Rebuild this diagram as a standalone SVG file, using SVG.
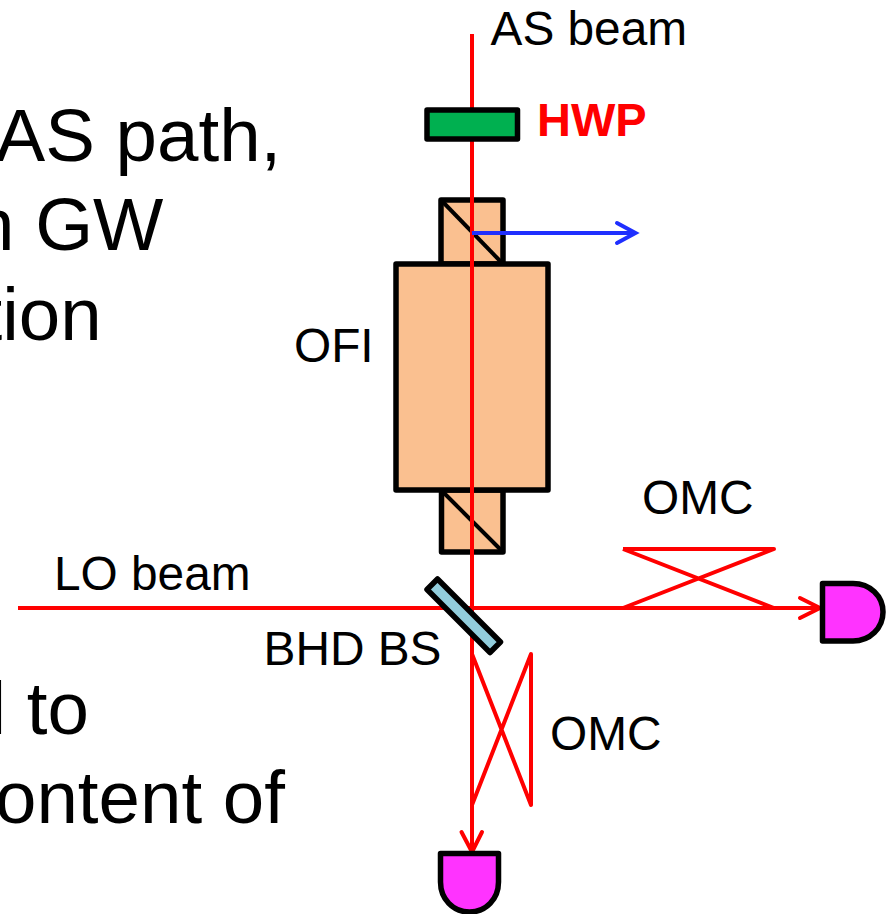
<svg xmlns="http://www.w3.org/2000/svg" width="890" height="914" viewBox="0 0 890 914">
<style>
text{font-family:"Liberation Sans",Arial,sans-serif;fill:#000}
.big{font-size:74.5px}
.lab{font-size:47.8px}
.box{fill:#fac090;stroke:#000;stroke-width:5.500;stroke-linejoin:round}
.det{fill:#ff33ff;stroke:#000;stroke-width:5.500;stroke-linejoin:round}
.thin{fill:none;stroke:#000;stroke-width:4}
.red{fill:none;stroke:#ff0000;stroke-width:4;stroke-linejoin:round}
.cap{stroke-linecap:round}
</style>
<rect width="890" height="914" fill="#fff"/>
<g id="caption">
<text class="big" x="-4.500" y="160.500">AS path,</text>
<text class="big" x="-27" y="250">n GW</text>
<text class="big" x="-18.500" y="340">tion</text>
<text class="big" x="-10.500" y="734">l to</text>
<text class="big" x="-5" y="823">ontent of</text>
</g>
<g id="ofi">
<rect class="box" x="441" y="200" width="62" height="64"/>
<path class="thin" d="M441 200L503 264"/>
<rect class="box" x="441.500" y="490" width="61.500" height="62"/>
<path class="thin" d="M441 490L503 552"/>
<rect class="box" x="396" y="264" width="152" height="226"/>
</g>
<g id="connectors">
<path class="red" d="M472 34V852"/>
<path class="red" d="M18 608H820"/>
<path class="red cap" d="M800 598L820 608L800 618"/>
<path class="red cap" d="M461.500 832L472 852L482 832"/>
<path fill="none" stroke="#1f2fff" stroke-width="4" d="M472 233H634"/>
<path fill="none" stroke="#1f2fff" stroke-width="4" stroke-linecap="round" d="M617 223L635.500 233L617 243"/>
</g>
<g id="hwp">
<rect x="427" y="110" width="90.500" height="29" fill="#00b050" stroke="#000" stroke-width="5.500" stroke-linejoin="round"/>
</g>
<g id="bhd-bs">
<path d="M437.500 579L427 589.500L490 652.500L500.500 642Z" fill="#92cddc" stroke="#000" stroke-width="5.500" stroke-linejoin="round"/>
</g>
<g id="omc-h">
<path class="red" d="M623 549H774L623 608M623 549L774 608"/>
</g>
<g id="omc-v">
<path class="red" d="M472 654L531 805V654L472 805"/>
</g>
<g id="det-r">
<path class="det" d="M822.500 583.500H853C870 583.500 883 596 883 612C883 628 870 641 853 641H822.500Z"/>
</g>
<g id="det-b">
<path class="det" d="M440.500 853.500H498.500V882C498.500 899 486 912 469.500 912C453 912 440.500 899 440.500 882Z"/>
</g>
<g id="labels">
<text class="lab" x="490.500" y="45">AS beam</text>
<text class="lab" x="537" y="136" style="font-weight:bold;fill:#ff0000;font-size:47px">HWP</text>
<text class="lab" x="294" y="362">OFI</text>
<text class="lab" x="642" y="514">OMC</text>
<text class="lab" x="54" y="590">LO beam</text>
<text class="lab" x="263.500" y="665">BHD BS</text>
<text class="lab" x="550" y="750">OMC</text>
</g>
</svg>
